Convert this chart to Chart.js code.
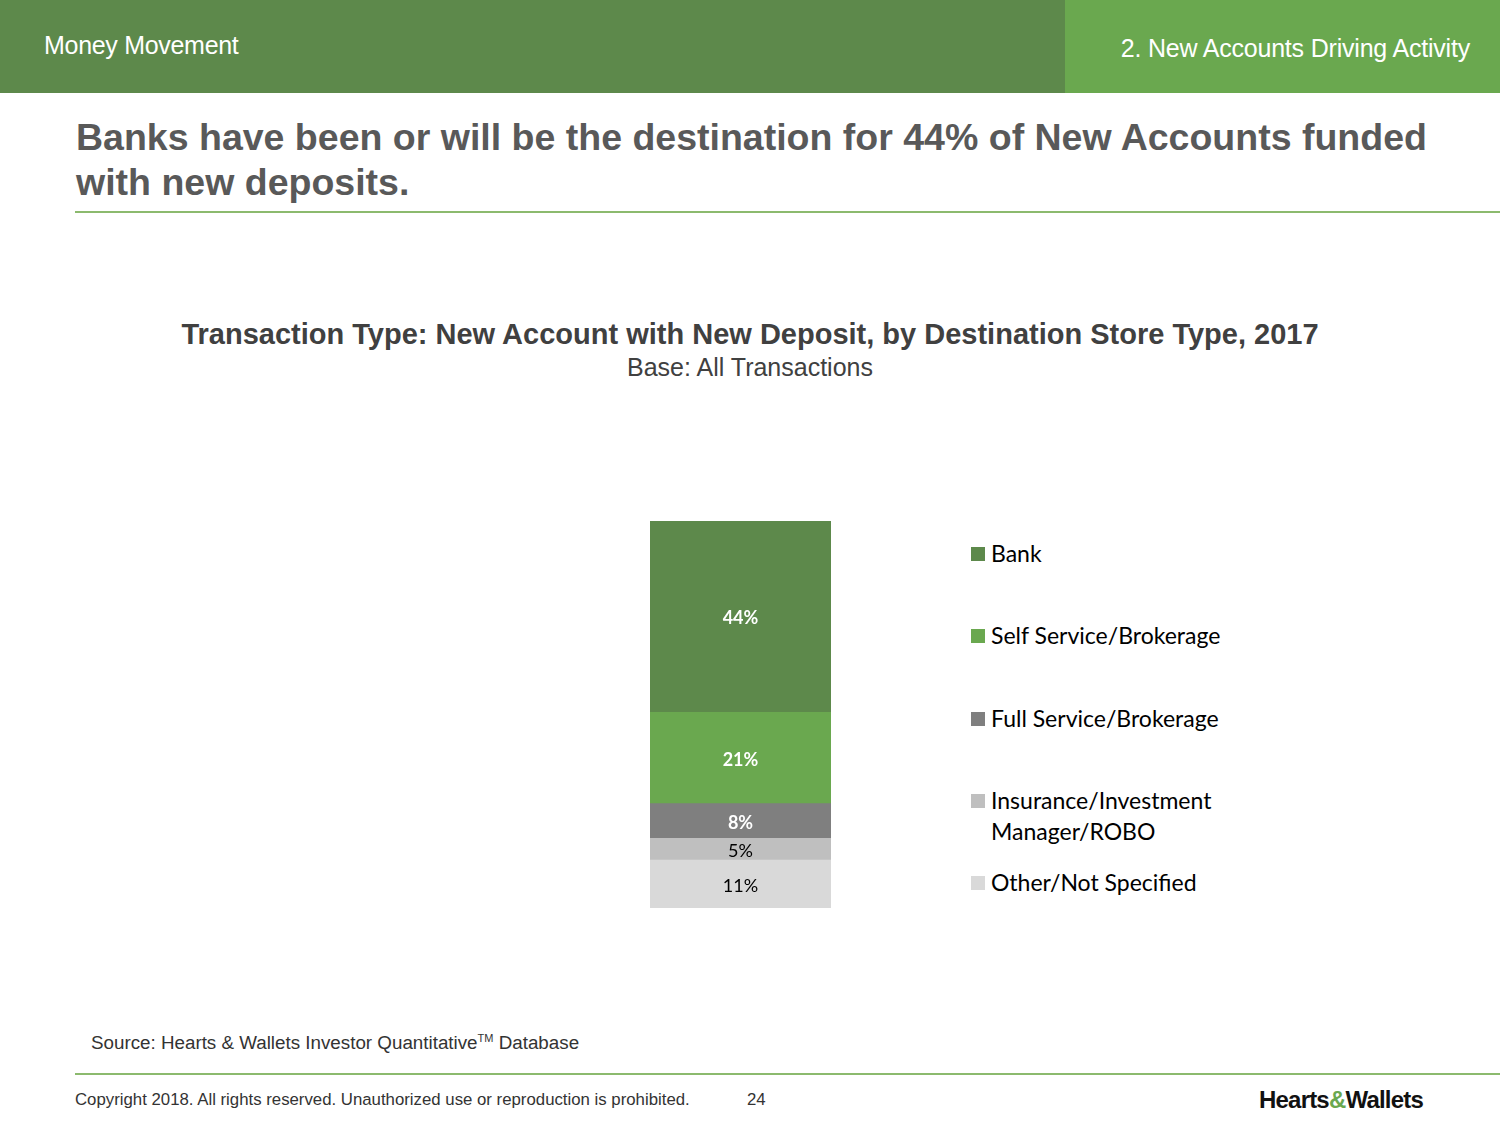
<!DOCTYPE html>
<html>
<head>
<meta charset="utf-8">
<script src="https://cdn.jsdelivr.net/npm/chart.js@4/dist/chart.umd.min.js"></script>
<style>
  body { margin: 0; width: 1500px; height: 1125px; position: relative; background: #fff; font-family: "Liberation Sans", Arial, sans-serif; overflow: hidden; }
  .abs { position: absolute; white-space: nowrap; }
  #hdrL { left: 0; top: 0; width: 1065px; height: 93px; background: #5d894b; }
  #hdrR { left: 1065px; top: 0; width: 435px; height: 93px; background: #6aa84f; }
  #chartBox { left: 600px; top: 480px; width: 300px; height: 460px; }
  .leg { font-family: Lato, "Open Sans", sans-serif; font-size: 23px; color: #000; line-height: 31px; }
  .sw { position: absolute; left: -20px; top: 9px; width: 14px; height: 14px; }
</style>
</head>
<body>
<div id="hdrL" class="abs"></div>
<div id="hdrR" class="abs"></div>
<div class="abs" style="left:44px; top:31px; font-size:25px; color:#fff; letter-spacing:-0.3px;">Money Movement</div>
<div class="abs" style="right:30px; top:34px; font-size:25px; color:#fff; letter-spacing:-0.2px;">2. New Accounts Driving Activity</div>

<div class="abs" style="left:76px; top:115px; font-size:37.5px; font-weight:bold; color:#595959; line-height:45px;">Banks have been or will be the destination for 44% of New Accounts funded<br>with new deposits.</div>
<div class="abs" style="left:75px; top:211px; width:1425px; height:2px; background:#8cba6e;"></div>

<div class="abs" style="left:0; width:1500px; top:318px; text-align:center; font-size:29px; font-weight:bold; color:#404040;">Transaction Type: New Account with New Deposit, by Destination Store Type, 2017</div>
<div class="abs" style="left:0; width:1500px; top:353px; text-align:center; font-size:25px; color:#404040;">Base: All Transactions</div>

<div id="chartBox" class="abs"><canvas id="chart"></canvas></div>
<div id="legend"></div>

<div class="abs" style="left:91px; top:1032px; font-size:18.8px; color:#333;">Source: Hearts &amp; Wallets Investor Quantitative<sup style="font-size:11px;">TM</sup> Database</div>
<div class="abs" style="left:75px; top:1073px; width:1425px; height:2px; background:#8cba6e;"></div>
<div class="abs" style="left:75px; top:1090px; font-size:16.8px; color:#333;">Copyright 2018. All rights reserved. Unauthorized use or reproduction is prohibited.</div>
<div class="abs" style="left:747px; top:1090px; font-size:16.8px; color:#333;">24</div>
<div class="abs" style="left:1259px; top:1086px; font-size:24px; font-weight:bold; color:#111; letter-spacing:-0.8px;">Hearts<span style="color:#6aa84f;">&amp;</span>Wallets</div>

<script>
// legend order = top of bar to bottom
var categories = ["Bank", "Self Service/Brokerage", "Full Service/Brokerage", "Insurance/Investment\nManager/ROBO", "Other/Not Specified"];
var values = [44, 21, 8, 5, 11];
var colors = ["#5d894b", "#6aa84f", "#7f7f7f", "#bfbfbf", "#d9d9d9"];
var labelColors = ["#fff", "#fff", "#fff", "#000", "#000"];
var legendTops = [538, 620, 703, 785, 867];

// Chart.js stacks the first dataset at the bottom, so reverse
var datasets = [];
for (var i = categories.length - 1; i >= 0; i--) {
  datasets.push({
    label: categories[i],
    data: [values[i]],
    backgroundColor: colors[i],
    labelColor: labelColors[i],
    barPercentage: 1,
    categoryPercentage: 1,
  });
}

var barLabels = {
  id: "barLabels",
  afterDatasetsDraw: function (chart) {
    var ctx = chart.ctx;
    ctx.save();
    ctx.textAlign = "center";
    ctx.textBaseline = "middle";
    chart.data.datasets.forEach(function (ds, i) {
      var bar = chart.getDatasetMeta(i).data[0];
      var white = ds.labelColor === "#fff";
      ctx.font = (white ? "bold " : "") + "18px Lato, 'Open Sans', sans-serif";
      ctx.fillStyle = ds.labelColor;
      var mid = (bar.y + bar.base) / 2;
      ctx.fillText(ds.data[0] + "%", bar.x, mid + 2);
    });
    ctx.restore();
  },
};

var ctx = document.getElementById("chart").getContext("2d");
var chart = new Chart(ctx, {
  type: "bar",
  data: { labels: ["2017"], datasets: datasets },
  options: {
    responsive: true,
    maintainAspectRatio: false,
    animation: false,
    layout: { padding: { left: 50, right: 69, top: 41, bottom: 32 } },
    plugins: { legend: { display: false }, tooltip: { enabled: false } },
    scales: {
      x: { stacked: true, display: false },
      y: { stacked: true, display: false, min: 0, max: 89 },
    },
  },
  plugins: [barLabels],
});

// html legend
var legend = document.getElementById("legend");
categories.forEach(function (c, i) {
  var d = document.createElement("div");
  d.className = "abs leg";
  d.style.left = "991px";
  d.style.top = legendTops[i] + "px";
  d.innerHTML = '<span class="sw" style="background:' + colors[i] + '"></span>' + c.replace("\n", "<br>");
  legend.appendChild(d);
});
</script>
</body>
</html>
